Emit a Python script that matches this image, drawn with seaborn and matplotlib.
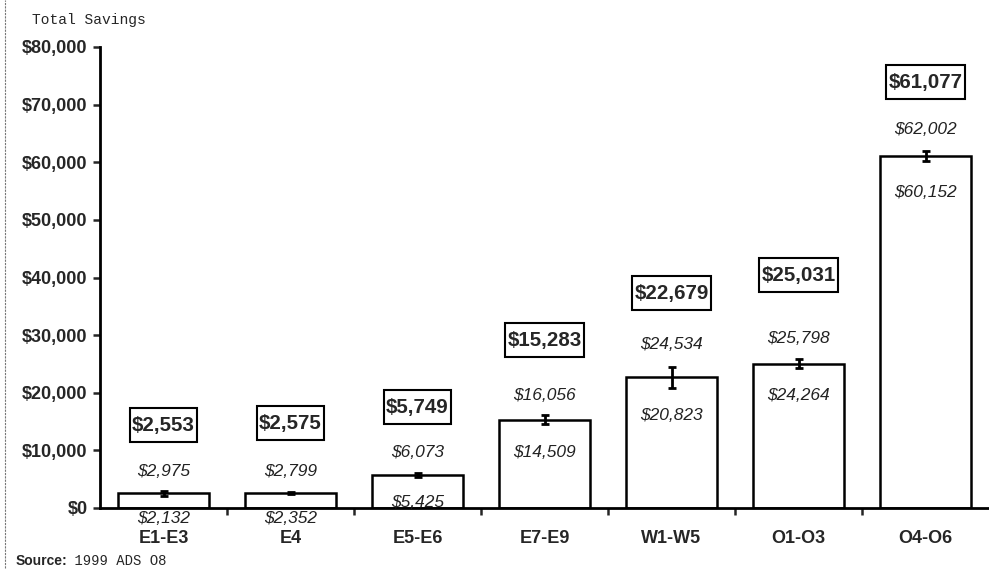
import numpy as np
import pandas as pd
import matplotlib
matplotlib.use("Agg")
import matplotlib.pyplot as plt
import seaborn as sns
from matplotlib.lines import Line2D
from matplotlib.path import Path

# Total savings by pay grade group, with low/high estimates
ranks = ["E1-E3", "E4", "E5-E6", "E7-E9", "W1-W5", "O1-O3", "O4-O6"]
savings = [2553, 2575, 5749, 15283, 22679, 25031, 61077]
upper = [2975, 2799, 6073, 16056, 24534, 25798, 62002]
lower = [2132, 2352, 5425, 14509, 20823, 24264, 60152]

# label heights (data units) as placed in the original
box_pos = [14400, 14750, 17500, 29150, 37300, 40400, 73900]
upper_pos = [6400, 6400, 9700, 19600, 28300, 29500, 65600]
lower_pos = [-1900, -1800, 870, 9700, 16100, 19600, 54800]

df = pd.DataFrame({"Rank": ranks, "Savings": savings})

sns.set_style("white")
plt.rcParams["font.family"] = ["Liberation Sans", "DejaVu Sans"]


def tall_box(x0, y0, width, height, mutation_size):
    # square box, little side padding, more room above and below
    px, py = 0.12 * mutation_size, 0.36 * mutation_size
    x0, y0 = x0 - px, y0 - py
    x1, y1 = x0 + width + 2 * px, y0 + height + 2 * py
    return Path([(x0, y0), (x1, y0), (x1, y1), (x0, y1), (x0, y0)], closed=True)


fig = plt.figure(figsize=(9.89, 5.80), dpi=100)
ax = fig.add_axes([100 / 989, 1 - 508 / 580, 889 / 989, 461 / 580])

sns.barplot(data=df, x="Rank", y="Savings", ax=ax, color="white",
            edgecolor="black", linewidth=1.8, width=0.72, errorbar=None)

x = np.arange(len(ranks))
yerr = [np.array(savings) - np.array(lower), np.array(upper) - np.array(savings)]
ax.errorbar(x, savings, yerr=yerr, fmt="none", ecolor="black",
            elinewidth=2, capsize=3, capthick=2)

for i in range(len(ranks)):
    ax.text(i, box_pos[i], f"${savings[i]:,}", ha="center", va="center",
            fontsize=14.8, fontweight="bold",
            bbox=dict(boxstyle=tall_box, fc="white", ec="black", lw=1.5))
    ax.text(i, upper_pos[i], f"${upper[i]:,}", ha="center", va="center",
            fontsize=12.5, style="italic", color="#222222")
    ax.text(i, lower_pos[i], f"${lower[i]:,}", ha="center", va="center",
            fontsize=12.5, style="italic", color="#222222", clip_on=False)

ax.set_ylim(0, 80000)
ax.set_xlim(-0.5, len(ranks) - 0.5)
ax.set_yticks(range(0, 80001, 10000))
ax.set_yticklabels([f"${v:,}" for v in range(0, 80001, 10000)],
                   fontsize=13, fontweight="bold")
ax.set_xticks(x)
ax.set_xticklabels(ranks, fontsize=13, fontweight="bold")
ax.set_xticks(np.arange(0.5, len(ranks) - 1, 1), minor=True)
ax.tick_params(axis="x", which="major", length=0, pad=16)
ax.tick_params(axis="x", which="minor", length=5, width=1.8, direction="out", bottom=True)
ax.tick_params(axis="y", length=5, width=1.8, direction="out", left=True, pad=4)
ax.set_xlabel("")
ax.set_ylabel("")

for side in ["top", "right"]:
    ax.spines[side].set_visible(False)
for side in ["left", "bottom"]:
    ax.spines[side].set_linewidth(2)
    ax.spines[side].set_color("black")

fig.text(32 / 989, 1 - 20 / 580, "Total Savings", fontsize=10.5,
         family="Liberation Mono", va="center", ha="left")
fig.text(16 / 989, 1 - 561 / 580, "Source:", fontsize=10, fontweight="bold",
         va="center", ha="left")
fig.text(66 / 989, 1 - 561 / 580, " 1999 ADS O8", fontsize=10,
         family="Liberation Mono", va="center", ha="left")

# scan edge on the left
fig.add_artist(Line2D([5 / 989, 5 / 989], [0.02, 1.0], transform=fig.transFigure,
                      color="#777777", lw=0.8, ls=(0, (2, 1))))

fig.savefig("out.png", dpi=100)
